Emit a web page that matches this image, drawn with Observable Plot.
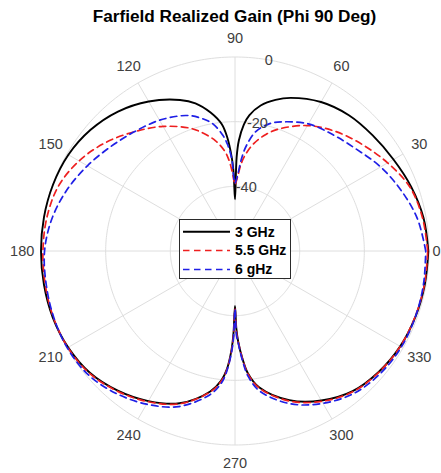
<!DOCTYPE html>
<html>
<head>
<meta charset="utf-8">
<script src="https://cdn.jsdelivr.net/npm/d3@7"></script>
<script src="https://cdn.jsdelivr.net/npm/@observablehq/plot@0.6"></script>
<style>
  html, body { margin: 0; padding: 0; background: #fff; }
  #wrap { position: relative; width: 441px; height: 473px; overflow: hidden; font-family: "Liberation Sans", Arial, Helvetica, sans-serif; }
  #title { height: 19px; padding-top: 7px; line-height: 19px; font-weight: bold; font-size: 17.2px; color: #000; text-align: center; padding-left: 28px; white-space: nowrap; }
  #legend { position: absolute; left: 179px; top: 219px; width: 112px; height: 60px; box-sizing: border-box; border: 1px solid #2a2a2a; background: #fff; }
</style>
</head>
<body>
<div id="wrap">
  <div id="title">Farfield Realized Gain (Phi 90 Deg)</div>
  <div id="chart"></div>
  <div id="legend"></div>
</div>
<script>
// ---- data (gain in dB vs. theta in degrees) ----
const theta = [0,10,20,30,40,50,60,70,75,80,84,86,88,89,90,91,92,94,96,100,105,110,120,130,140,150,160,170,180,190,200,210,220,230,240,250,260,264,266,268,269,270,271,272,274,276,280,290,300,310,320,330,340,350,360];
const gain3GHz = [-0.2,-0.8,-2.0,-3.4,-4.4,-5.2,-6.8,-9.6,-11.6,-14.3,-17.8,-20.8,-25.8,-31,-44,-36,-31,-24.5,-20.5,-16.5,-12.7,-10.3,-6.6,-3.7,-1.7,-0.5,-0.1,0,0,0,0,-0.4,-1.4,-3.6,-6.4,-9.9,-15.9,-19.8,-23.2,-29.5,-35,-43,-36,-32,-26.5,-22,-17.2,-10.9,-6.6,-3.4,-1.9,-1.0,-0.6,-0.4,-0.2];
const gain55GHz = [-0.4,-1.1,-2.4,-5.5,-8.7,-11.7,-15.2,-19.8,-22.6,-26.2,-30.2,-33,-37,-38.5,-39.5,-38,-35.5,-31.5,-28.8,-25.4,-22.3,-19.6,-15.5,-11.8,-7.8,-4.3,-1.8,-0.9,-0.6,-0.4,-0.2,-0.3,-1.2,-3.4,-6.2,-9.7,-15.7,-19.6,-23,-29,-34,-42,-35,-32,-26.5,-21.8,-17,-10.6,-6.3,-3.2,-1.8,-1.0,-0.7,-0.5,-0.4];
const gain6GHz = [-1.0,-2.7,-5.3,-8.0,-11.0,-13.0,-14.6,-17.5,-19.3,-22.4,-27.5,-31.5,-36.5,-38,-39,-37,-31.5,-27,-24,-20,-17.3,-15.4,-13.3,-11.8,-9.8,-7.3,-4.7,-2.5,-1.1,-0.7,-0.3,-0.1,-0.6,-2.6,-5.3,-8.8,-14.8,-18.8,-22.5,-28.5,-33,-42,-34,-31.5,-25.8,-21,-16,-9.7,-5.6,-2.6,-1.2,-0.6,-0.6,-0.8,-1.0];
const seriesNames = ["3 GHz", "5.5 GHz", "6 gHz"];
const rLim = [-60, 0];
const rTickLabels = [0, -20, -40];
const angleTickLabels = [0,30,60,90,120,150,180,210,240,270,300,330];

// ---- styles ----
const styles = [
  {stroke: "#000000", dash: null, width: 1.9},
  {stroke: "#ee1f1f", dash: "6.5,4.5", width: 1.7},
  {stroke: "#1f1fe6", dash: "6.5,4.5", width: 1.7}
];
const gridColor = "#dedede";
const labelColor = "#404040";

const rad = d => d * Math.PI / 180;
const R0 = rLim[0];
const toR = g => Math.max(0, Math.min(g, rLim[1]) - R0);

const gains = [gain3GHz, gain55GHz, gain6GHz];
const curves = gains.map((arr, k) => theta.map((t, i) => ({
  series: seriesNames[k],
  x: toR(arr[i]) * Math.cos(rad(t)),
  y: toR(arr[i]) * Math.sin(rad(t))
})));

// grid rings at each r tick
const ringLevels = rTickLabels.map(v => v - R0);
const ringPts = ringLevels.flatMap(r => d3.range(0, 361, 1).map(a => ({r, x: r * Math.cos(rad(a)), y: r * Math.sin(rad(a))})));
const Rmax = rLim[1] - R0;
const labelR = Rmax * 1.097;
const rAxisAngle = 80;

const marks = [
  Plot.line(ringPts, {x: "x", y: "y", z: "r", stroke: gridColor, strokeWidth: 1}),
  Plot.link(angleTickLabels, {x1: 0, y1: 0, x2: a => Rmax * Math.cos(rad(a)), y2: a => Rmax * Math.sin(rad(a)), stroke: gridColor, strokeWidth: 1}),
  ...curves.map((c, k) => Plot.line(c, {x: "x", y: "y", stroke: styles[k].stroke, strokeWidth: styles[k].width, strokeDasharray: styles[k].dash, curve: "catmull-rom"})),
  Plot.text(angleTickLabels.filter(a => a !== 0), {x: a => labelR * Math.cos(rad(a)), y: a => labelR * Math.sin(rad(a)), text: a => String(a), fill: labelColor, fontSize: 14.5, fontFamily: "Liberation Sans, Arial, sans-serif", textAnchor: "middle"}),
  Plot.text(angleTickLabels.filter(a => a === 0), {x: a => Rmax * 1.018 * Math.cos(rad(a)), y: a => 0, text: a => String(a), fill: labelColor, fontSize: 14.5, fontFamily: "Liberation Sans, Arial, sans-serif", textAnchor: "start"}),
  Plot.text(rTickLabels, {x: v => (v - R0) * Math.cos(rad(rAxisAngle)), y: v => (v - R0) * Math.sin(rad(rAxisAngle)), text: v => String(v), fill: labelColor, fontSize: 14.5, fontFamily: "Liberation Sans, Arial, sans-serif", textAnchor: "middle"})
];

const chart = Plot.plot({
  width: 441,
  height: 447,
  marginLeft: 40.5,
  marginRight: 12.5,
  marginTop: 30.5,
  marginBottom: 28.5,
  x: {domain: [-Rmax, Rmax], axis: null},
  y: {domain: [-Rmax, Rmax], axis: null},
  style: {background: "#fff", overflow: "visible"},
  marks
});
document.getElementById("chart").appendChild(chart);

// legend
const lg = d3.select("#legend").append("svg").attr("width", 110).attr("height", 58);
const rowsY = [11.7, 30.5, 49.5];
seriesNames.forEach((name, k) => {
  lg.append("line").attr("x1", 3).attr("x2", 50).attr("y1", rowsY[k]).attr("y2", rowsY[k])
    .attr("stroke", styles[k].stroke).attr("stroke-width", styles[k].width)
    .attr("stroke-dasharray", styles[k].dash);
  lg.append("text").attr("x", 55).attr("y", rowsY[k]).attr("dy", "0.35em")
    .attr("font-family", "Liberation Sans, Arial, sans-serif").attr("font-weight", "bold")
    .attr("font-size", 14).attr("fill", "#000").text(name);
});
</script>
</body>
</html>
